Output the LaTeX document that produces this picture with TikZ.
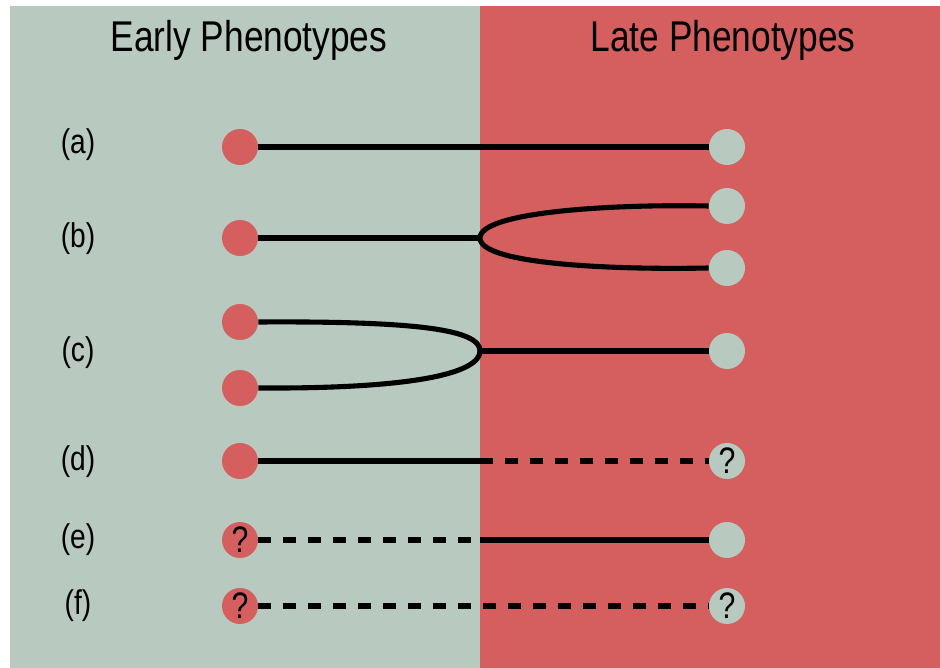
\documentclass[tikz,border=0pt]{standalone}
\usepackage{fontspec}
\setmainfont{Liberation Sans}[FakeStretch=0.82]
\usepackage{xcolor}
\usetikzlibrary{calc}

\definecolor{earlybg}{RGB}{184,201,191}
\definecolor{latebg}{RGB}{212,95,94}

\tikzset{
  pheno/.style={circle,minimum size=0.72cm,inner sep=0pt,font=\fontsize{21}{21}\selectfont},
  early/.style={pheno,fill=latebg},
  late/.style={pheno,fill=earlybg},
  link/.style={line width=2.9pt},
  guess/.style={line width=2.9pt,dash pattern=on 0.26cm off 0.24cm},
  rowlabel/.style={font=\fontsize{19.5}{19.5}\selectfont},
  title/.style={font=\fontsize{24.5}{24.5}\selectfont}
}

\begin{document}
\begin{tikzpicture}[x=0.02cm,y=-0.02cm]
  \useasboundingbox (0,0) rectangle (940,668);
  \fill[earlybg] (10,6) rectangle (480,668);
  \fill[latebg] (480,6) rectangle (940,668);
  \node[title] (tearly) at (249,40) {Early Phenotypes};
  \node[title] (tlate) at (723,40) {Late Phenotypes};
  % row labels
  \node[rowlabel] (ra) at (78,145) {(a)};
  \node[rowlabel] (rb) at (78,239) {(b)};
  \node[rowlabel] (rc) at (78,353) {(c)};
  \node[rowlabel] (rd) at (78,462) {(d)};
  \node[rowlabel] (re) at (78,540) {(e)};
  \node[rowlabel] (rf) at (78,606) {(f)};
  % phenotypes
  \node[early] (ea) at (240,147) {};
  \node[late] (la) at (727,147) {};
  \node[early] (eb) at (240,238) {};
  \node[late] (lb1) at (727,206) {};
  \node[late] (lb2) at (727,268) {};
  \node[early] (ec1) at (240,322) {};
  \node[early] (ec2) at (240,388) {};
  \node[late] (lc) at (727,351) {};
  \node[early] (ed) at (240,461) {};
  \node[late] (ld) at (727,461) {?};
  \node[early] (ee) at (240,540) {?};
  \node[late] (le) at (727,540) {};
  \node[early] (ef) at (240,606) {?};
  \node[late] (lf) at (727,606) {?};
  \coordinate (fb) at (480,238);
  \coordinate (fc) at (480,351);
  \coordinate (md) at (480,461);
  \coordinate (me) at (480,540);
  % connections
  \draw[link] (ea) -- (la);
  \draw[link] (eb) -- (fb);
  \draw[link] (fb) .. controls (480,212) and (610,204) .. (lb1.west);
  \draw[link] (fb) .. controls (480,264) and (610,270) .. (lb2.west);
  \draw[link] (ec1.east) .. controls (420,321) and (480,330) .. (fc);
  \draw[link] (ec2.east) .. controls (420,389) and (480,372) .. (fc);
  \draw[link] (fc) -- (lc);
  \draw[link] (ed) -- (md);
  \draw[guess] (md) -- (ld);
  \draw[guess] (ee) -- (me);
  \draw[link] (me) -- (le);
  \draw[guess] (ef) -- (lf);
\end{tikzpicture}
\end{document}
